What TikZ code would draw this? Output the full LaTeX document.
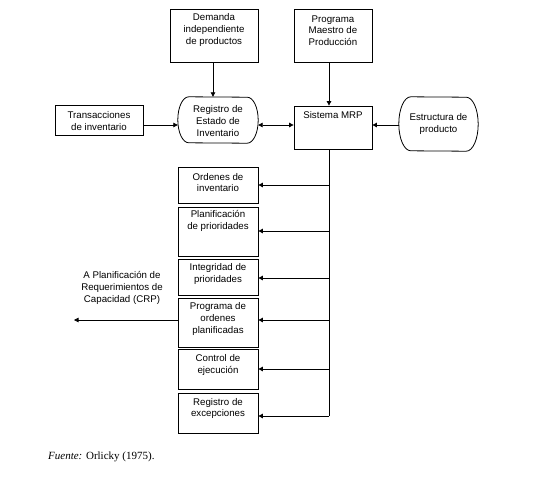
\documentclass[tikz,border=0pt]{standalone}
\usepackage{fontspec}
\setmainfont{Liberation Sans}
\newfontfamily\capfont{Liberation Serif}
\usetikzlibrary{arrows.meta}
\begin{document}
\begin{tikzpicture}[x=1pt,y=-1pt,
  box/.style={draw,line width=0.8pt,inner sep=0pt},
  rbox/.style={inner sep=0pt},
  outline/.style={line width=0.8pt},
  txt/.style={align=center,inner sep=0pt,font=\fontsize{9.7}{11.6}\selectfont},
  conn/.style={line width=0.8pt,-{Triangle[length=4.5pt,width=4.5pt]}},
  line/.style={line width=0.8pt}]
\useasboundingbox (0,0) rectangle (554,480);
% top boxes
\node[box,minimum width=88pt,minimum height=53pt] (dem) at (214,35.5) {};
\node[txt] (demT) at (214,30) {Demanda\\independiente\\de productos};
\node[box,minimum width=78pt,minimum height=53pt] (pmp) at (333,35.5) {};
\node[txt] (pmpT) at (333,30.5) {Programa\\Maestro de\\Producción};
% middle row
\node[box,minimum width=88pt,minimum height=30pt] (tra) at (99,120) {};
\node[txt] (traT) at (99,121) {Transacciones\\de inventario};
\node[rbox,minimum width=80pt,minimum height=46pt] (reg) at (218,120) {};
\draw[outline] ([xshift=11pt]reg.north west) arc[start angle=90,end angle=270,x radius=11pt,y radius=23pt]
  -- ([xshift=-11pt]reg.south east) arc[start angle=-90,end angle=90,x radius=11pt,y radius=23pt] -- cycle;
\node[txt] (regT) at (218,121) {Registro de\\Estado de\\Inventario};
\node[box,minimum width=78pt,minimum height=43pt] (mrp) at (333,127.5) {};
\node[txt] (mrpT) at (333,115) {Sistema MRP};
\node[rbox,minimum width=79pt,minimum height=54pt] (est) at (438.5,124) {};
\draw[outline] ([xshift=12pt]est.north west) arc[start angle=90,end angle=270,x radius=12pt,y radius=27pt]
  -- ([xshift=-12pt]est.south east) arc[start angle=-90,end angle=90,x radius=12pt,y radius=27pt] -- cycle;
\node[txt] (estT) at (438.5,124) {Estructura de\\producto};
% output boxes
\node[box,minimum width=80pt,minimum height=36pt] (o1) at (218,185) {};
\node[txt] (o1T) at (218,182.5) {Ordenes de\\inventario};
\node[box,minimum width=80pt,minimum height=49pt] (o2) at (218,231.5) {};
\node[txt] (o2T) at (218,221) {Planificación\\de prioridades};
\node[box,minimum width=80pt,minimum height=36pt] (o3) at (218,277) {};
\node[txt] (o3T) at (218,274) {Integridad de\\prioridades};
\node[box,minimum width=80pt,minimum height=49pt] (o4) at (218,322.5) {};
\node[txt] (o4T) at (218,319) {Programa de\\ordenes\\planificadas};
\node[box,minimum width=80pt,minimum height=40pt] (o5) at (218,369) {};
\node[txt] (o5T) at (218,365) {Control de\\ejecución};
\node[box,minimum width=80pt,minimum height=40pt] (o6) at (218,413) {};
\node[txt] (o6T) at (218,408.5) {Registro de\\excepciones};
% CRP label
\node[txt] (crp) at (122,288) {A Planificación de\\Requerimientos de\\Capacidad (CRP)};
\coordinate (crpEnd) at (74,320);
% caption
\node[anchor=base west,inner sep=0pt,font=\capfont\fontsize{11}{13}\selectfont] (cap) at (48,459.5) {\textit{Fuente:} Orlicky (1975).};
% connectors
\draw[conn] (dem.south -| 213,0) -- (reg.north -| 213,0);
\draw[conn] (pmp.south -| 329,0) -- (mrp.north -| 329,0);
\draw[conn] ([yshift=-5pt]tra.east) -- ([yshift=-5pt]tra.east -| reg.west);
\draw[line width=0.8pt,{Triangle[length=4.5pt,width=4.5pt]}-{Triangle[length=4.5pt,width=4.5pt]}] ([yshift=-5pt]reg.east) -- ([yshift=-5pt]reg.east -| mrp.west);
\draw[conn] ([yshift=-1pt]est.west) -- ([yshift=-1pt]est.west -| mrp.east);
\coordinate (trunkTop) at (mrp.south -| 329,0);
\coordinate (trunkBot) at (329,416);
\draw[line] (trunkTop) -- (trunkBot);
\draw[conn] (o1.east -| trunkTop) -- (o1.east);
\draw[conn] (329,231) -- (o2.east |- 0,231);
\draw[conn] (329,278) -- (o3.east |- 0,278);
\draw[conn] (329,320) -- (o4.east |- 0,320);
\draw[conn] (trunkTop |- 0,369) -- (o5.east);
\draw[conn] (trunkBot) -- (o6.east |- trunkBot);
\draw[conn] (o4.west |- crpEnd) -- (crpEnd);
\end{tikzpicture}
\end{document}
